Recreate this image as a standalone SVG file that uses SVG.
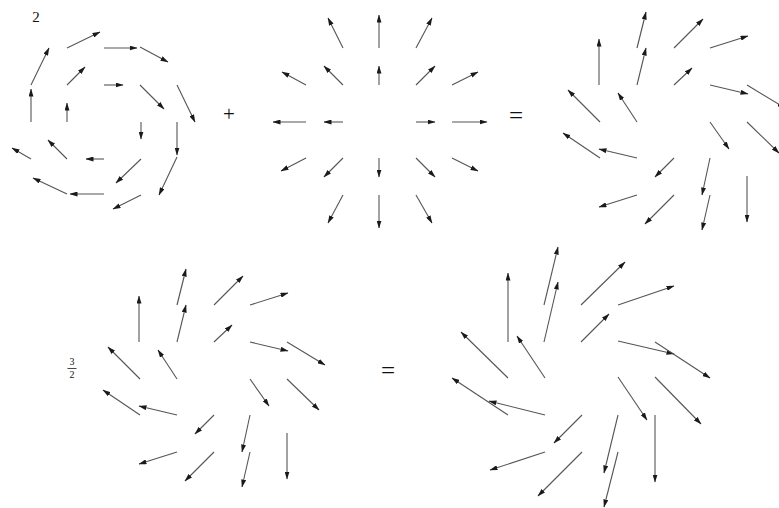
<svg xmlns="http://www.w3.org/2000/svg" width="779" height="508" viewBox="0 0 779 508">
<style>
.v line{stroke:#555;stroke-width:1.1;marker-end:url(#ah)}
.t{fill:#111;text-anchor:middle}
</style>
<defs>
<marker id="ah" viewBox="0 0 8 5" refX="7.5" refY="2.5" markerWidth="8" markerHeight="5" markerUnits="userSpaceOnUse" orient="auto">
<path d="M0,0 L8,2.5 L0,5 Z" fill="#1a1a1a"/>
</marker>
<g id="sum" class="v">
<line x1="599" y1="85" x2="599" y2="39"/>
<line x1="637" y1="48" x2="646" y2="12"/>
<line x1="674" y1="48" x2="703" y2="19"/>
<line x1="710" y1="48" x2="748" y2="36"/>
<line x1="637" y1="85" x2="646" y2="48"/>
<line x1="674" y1="85" x2="692" y2="68"/>
<line x1="710" y1="85" x2="748" y2="94"/>
<line x1="747" y1="85" x2="785" y2="108"/>
<line x1="600" y1="122" x2="568" y2="90"/>
<line x1="637" y1="122" x2="618" y2="93"/>
<line x1="710" y1="122" x2="729" y2="149"/>
<line x1="747" y1="122" x2="779" y2="153"/>
<line x1="600" y1="158" x2="563" y2="133"/>
<line x1="637" y1="158" x2="599" y2="149"/>
<line x1="674" y1="158" x2="655" y2="177"/>
<line x1="710" y1="158" x2="702" y2="195"/>
<line x1="747" y1="176" x2="747" y2="222"/>
<line x1="637" y1="195" x2="599" y2="207"/>
<line x1="674" y1="195" x2="645" y2="224"/>
<line x1="710" y1="195" x2="702" y2="230"/>
</g>
</defs>

<g font-family="'Liberation Serif', 'Times New Roman', serif">
<text class="t" x="36" y="21.5" font-size="15">2</text>
<text class="t" x="229" y="121" font-size="21">+</text>
<text class="t" x="516" y="123.5" font-size="25">=</text>
<text class="t" x="388" y="378.5" font-size="25">=</text>
<g id="frac">
<text class="t" x="72" y="365" font-size="10">3</text>
<line x1="67.5" y1="368.5" x2="76.5" y2="368.5" stroke="#333" stroke-width="0.9"/>
<text class="t" x="72" y="378" font-size="10">2</text>
</g>
</g>

<g id="rotation" class="v">
<line x1="31" y1="122" x2="31" y2="89"/>
<line x1="31" y1="85" x2="49" y2="48"/>
<line x1="67" y1="48" x2="100" y2="32"/>
<line x1="104" y1="48" x2="137" y2="48"/>
<line x1="140" y1="47" x2="168" y2="62"/>
<line x1="177" y1="85" x2="195" y2="122"/>
<line x1="177" y1="122" x2="177" y2="155"/>
<line x1="177" y1="157" x2="159" y2="195"/>
<line x1="141" y1="195" x2="113" y2="209"/>
<line x1="104" y1="194" x2="70" y2="194"/>
<line x1="67" y1="194" x2="33" y2="178"/>
<line x1="31" y1="159" x2="12" y2="148"/>
<line x1="67" y1="122" x2="67" y2="103"/>
<line x1="67" y1="85" x2="85" y2="67"/>
<line x1="104" y1="85" x2="123" y2="85"/>
<line x1="140" y1="85" x2="164" y2="109"/>
<line x1="141" y1="122" x2="141" y2="139"/>
<line x1="141" y1="159" x2="116" y2="183"/>
<line x1="104" y1="159" x2="86" y2="159"/>
<line x1="67" y1="159" x2="48" y2="140"/>
</g>

<g id="radial" class="v">
<line x1="379" y1="48" x2="379" y2="15"/>
<line x1="343" y1="48" x2="328" y2="18"/>
<line x1="416" y1="48" x2="432" y2="18"/>
<line x1="306" y1="85" x2="282" y2="72"/>
<line x1="343" y1="85" x2="324" y2="66"/>
<line x1="379" y1="85" x2="379" y2="66"/>
<line x1="416" y1="85" x2="435" y2="66"/>
<line x1="452" y1="85" x2="478" y2="72"/>
<line x1="306" y1="122" x2="273" y2="122"/>
<line x1="343" y1="122" x2="324" y2="122"/>
<line x1="416" y1="122" x2="435" y2="122"/>
<line x1="452" y1="122" x2="487" y2="122"/>
<line x1="306" y1="158" x2="281" y2="171"/>
<line x1="343" y1="158" x2="324" y2="177"/>
<line x1="379" y1="158" x2="379" y2="177"/>
<line x1="416" y1="158" x2="435" y2="177"/>
<line x1="452" y1="158" x2="478" y2="171"/>
<line x1="343" y1="195" x2="328" y2="223"/>
<line x1="379" y1="195" x2="379" y2="228"/>
<line x1="416" y1="195" x2="432" y2="223"/>
</g>

<g id="sum-top"><use href="#sum"/></g>
<g id="sum-bottom"><use href="#sum" transform="translate(-460,257)"/></g>

<g id="scaled" class="v">
<line x1="508" y1="342" x2="508" y2="273"/>
<line x1="544" y1="305" x2="558" y2="247"/>
<line x1="581" y1="305" x2="625" y2="262"/>
<line x1="618" y1="305" x2="674" y2="286"/>
<line x1="544" y1="342" x2="558" y2="282"/>
<line x1="581" y1="342" x2="609" y2="314"/>
<line x1="618" y1="341" x2="674" y2="354"/>
<line x1="655" y1="342" x2="710" y2="378"/>
<line x1="508" y1="378" x2="461" y2="332"/>
<line x1="545" y1="378" x2="517" y2="336"/>
<line x1="618" y1="377" x2="647" y2="420"/>
<line x1="655" y1="377" x2="701" y2="424"/>
<line x1="508" y1="415" x2="452" y2="378"/>
<line x1="545" y1="415" x2="489" y2="401"/>
<line x1="582" y1="415" x2="554" y2="443"/>
<line x1="618" y1="415" x2="604" y2="473"/>
<line x1="655" y1="415" x2="655" y2="482"/>
<line x1="545" y1="452" x2="490" y2="470"/>
<line x1="582" y1="452" x2="538" y2="496"/>
<line x1="618" y1="452" x2="604" y2="507"/>
</g>
</svg>
